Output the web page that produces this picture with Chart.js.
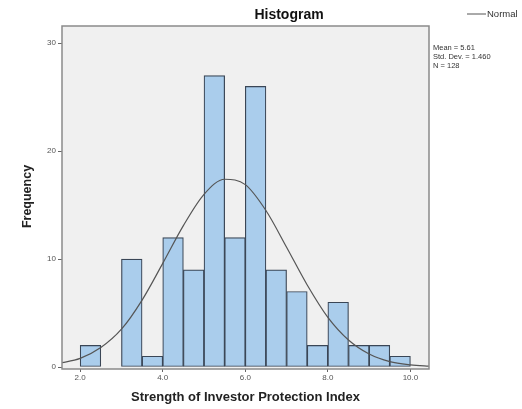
<!DOCTYPE html>
<html lang="en">
<head>
  <meta charset="UTF-8">
  <title>Histogram</title>
  <script src="https://cdn.jsdelivr.net/npm/chart.js@4"></script>
  <style>
    body { margin: 0; background: #fff; }
    #wrap { width: 522px; height: 409px; }
  </style>
</head>
<body>

<div id="wrap">
  <canvas id="histChart" width="522" height="409"></canvas>
</div>

<script>
  // bins of width 0.5 (lower edge) and their frequencies
  const binStarts = [2.0, 3.0, 3.5, 4.0, 4.5, 5.0, 5.5, 6.0, 6.5, 7.0, 7.5, 8.0, 8.5, 9.0, 9.5];
  const frequencies = [2, 10, 1, 12, 9, 27, 12, 26, 9, 7, 2, 6, 2, 2, 1];
  const binWidth = 0.5;

  // normal curve
  const curveX = [1.5, 2.0, 2.5, 3.0, 3.5, 4.0, 4.5, 5.0, 5.5, 6.0, 6.5, 7.0, 7.5, 8.0, 8.5, 9.0, 9.5, 10.0, 10.5];
  const curveY = [0.35, 0.8, 1.8, 3.5, 6.2, 9.6, 13.1, 16.0, 17.4, 16.9, 14.5, 11.1, 7.6, 4.6, 2.5, 1.2, 0.5, 0.2, 0.06];

  const xTicks = [2, 4, 6, 8, 10];
  const yTicks = [0, 10, 20, 30];
  const statLines = ['Mean = 5.61', 'Std. Dev. = 1.460', 'N = 128'];

  const fontFamily = 'Arial, "Liberation Sans", sans-serif';

  // gray plot background, frame, title, legend and stats box
  const framePlugin = {
    id: 'frame',
    beforeDatasetsDraw(chart) {
      const { ctx, chartArea: a } = chart;
      ctx.save();
      ctx.fillStyle = '#f0f0f0';
      ctx.fillRect(a.left, a.top, a.right - a.left, a.bottom - a.top + 2);
      ctx.restore();
    },
    afterDraw(chart) {
      const { ctx, chartArea: a } = chart;
      ctx.save();
      ctx.strokeStyle = '#8a8a8a';
      ctx.lineWidth = 1.5;
      ctx.strokeRect(a.left, a.top, a.right - a.left, a.bottom - a.top + 2);

      ctx.fillStyle = '#111';
      ctx.font = 'bold 14px ' + fontFamily;
      ctx.textAlign = 'center';
      ctx.textBaseline = 'middle';
      ctx.fillText('Histogram', 289, 15);

      // legend
      ctx.strokeStyle = '#555';
      ctx.lineWidth = 1;
      ctx.beginPath();
      ctx.moveTo(467, 14);
      ctx.lineTo(486, 14);
      ctx.stroke();
      ctx.fillStyle = '#333';
      ctx.font = '9.5px ' + fontFamily;
      ctx.textAlign = 'left';
      ctx.fillText('Normal', 487, 14);

      // stats
      ctx.font = '7.5px ' + fontFamily;
      statLines.forEach((t, i) => ctx.fillText(t, 433, 48 + i * 9));
      ctx.restore();
    }
  };

  document.addEventListener('DOMContentLoaded', function () {
    const ctx = document.getElementById('histChart').getContext('2d');

    const barData = binStarts.map((s, i) => ({ x: s + binWidth / 2, y: frequencies[i] }));
    const lineData = curveX.map((x, i) => ({ x: x, y: curveY[i] }));

    new Chart(ctx, {
      data: {
        datasets: [
          {
            type: 'line',
            label: 'Normal',
            data: lineData,
            borderColor: '#555555',
            borderWidth: 1.2,
            pointRadius: 0,
            cubicInterpolationMode: 'monotone',
            fill: false,
            order: 0
          },
          {
            type: 'bar',
            label: 'Frequency',
            data: barData,
            backgroundColor: '#aacdec',
            borderColor: '#3a4656',
            borderWidth: 1.2,
            borderSkipped: false,
            barPercentage: 1.0,
            categoryPercentage: 1.0,
            order: 1
          }
        ]
      },
      options: {
        responsive: false,
        animation: false,
        layout: { padding: { top: 26, right: 93, left: 0, bottom: 0 } },
        plugins: {
          legend: { display: false },
          title: { display: false },
          tooltip: { enabled: false }
        },
        scales: {
          x: {
            type: 'linear',
            min: 1.56,
            max: 10.45,
            offset: false,
            afterBuildTicks: (scale) => { scale.ticks = xTicks.map(v => ({ value: v })); },
            afterFit: (scale) => { scale.height = 42; },
            ticks: {
              color: '#555',
              font: { size: 8, family: fontFamily },
              padding: 1,
              maxRotation: 0,
              callback: (v) => Number(v).toFixed(1)
            },
            grid: { display: true, offset: false, drawOnChartArea: false, drawTicks: true, tickLength: 5, color: '#666' },
            border: { display: false },
            title: {
              display: true,
              text: 'Strength of Investor Protection Index',
              color: '#222',
              font: { size: 13, weight: 'bold', family: fontFamily },
              padding: { top: 0, bottom: 4 }
            }
          },
          y: {
            min: 0,
            max: 31.6,
            afterBuildTicks: (scale) => { scale.ticks = yTicks.map(v => ({ value: v })); },
            afterFit: (scale) => { scale.width = 62; },
            ticks: {
              color: '#555',
              font: { size: 8, family: fontFamily },
              padding: 2
            },
            grid: { display: true, drawOnChartArea: false, drawTicks: true, tickLength: 4, color: '#666' },
            border: { display: false },
            title: {
              display: true,
              text: 'Frequency',
              color: '#222',
              font: { size: 12.5, weight: 'bold', family: fontFamily },
              padding: { top: 20, bottom: 0 }
            }
          }
        }
      },
      plugins: [framePlugin]
    });
  });
</script>

</body>
</html>
